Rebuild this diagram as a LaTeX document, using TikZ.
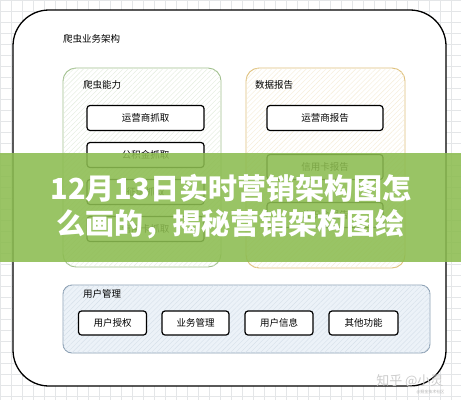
\documentclass[tikz,border=0pt]{standalone}
\usepackage{fontspec}
\setmainfont{Noto Sans CJK SC}
\usepackage{tikz}
\usetikzlibrary{patterns.meta, calc}

\definecolor{gridgray}{RGB}{228,230,232}
\definecolor{crawlgreen}{RGB}{160,192,140}
\definecolor{crawlhatch}{RGB}{226,236,220}
\definecolor{reportgold}{RGB}{222,192,122}
\definecolor{reporthatch}{RGB}{246,236,214}
\definecolor{userblue}{RGB}{140,160,180}
\definecolor{userfill}{RGB}{236,242,248}
\definecolor{userhatch}{RGB}{214,224,234}
\definecolor{bannergreen}{RGB}{140,188,80}

\begin{document}
\begin{tikzpicture}[x=1pt, y=-1pt,
  group/.style={rounded corners=13pt, line width=0.9pt},
  item/.style={draw=black, line width=1.2pt, rounded corners=3pt, fill=white,
    minimum height=25pt, inner sep=0pt, font=\fontsize{9.5}{11}\selectfont},
  grouplabel/.style={anchor=west, inner sep=0pt, font=\fontsize{9.5}{11}\selectfont},
  banner/.style={fill=bannergreen, opacity=0.88}]

\useasboundingbox (0,0) rectangle (461,400);

% paper grid
\draw[gridgray, line width=0.4pt, step=11pt] (0,0) grid (461,400);

% outer frame
\draw[fill=white, line width=1.3pt, rounded corners=36pt] (13,10) rectangle (446,386);
\node[grouplabel] (title) at (63,39) {爬虫业务架构};

% crawler block
\draw[group, draw=crawlgreen, fill=white,
  postaction={pattern={Lines[angle=45, distance=3.5pt, line width=0.4pt]}, pattern color=crawlhatch}]
  (63,68) rectangle (221,267);
\node[grouplabel] (crawl) at (83,85) {爬虫能力};
\node[item, minimum width=117pt] (c1) at (145.5,118) {运营商抓取};
\node[item, minimum width=117pt] (c2) at (145.5,155) {公积金抓取};
\node[item, minimum width=117pt] (c3) at (145.5,192) {征信抓取};
\node[item, minimum width=117pt] (c4) at (145.5,229) {信用卡抓取};

% report block
\draw[group, draw=reportgold, fill=white,
  postaction={pattern={Lines[angle=45, distance=3.5pt, line width=0.4pt]}, pattern color=reporthatch}]
  (246,68) rectangle (405,268);
\node[grouplabel] (report) at (255,85) {数据报告};
\node[item, minimum width=116pt] (r1) at (325,118) {运营商报告};
\node[item, minimum width=116pt] (r2) at (325,167) {信用卡报告};
\node[item, minimum width=116pt] (r3) at (325,215) {公积金报告};

% user block
\draw[rounded corners=9pt, line width=0.9pt, draw=userblue, fill=userfill,
  postaction={pattern={Lines[angle=45, distance=3.5pt, line width=0.4pt]}, pattern color=userhatch}]
  (63,285) rectangle (430,353);
\node[grouplabel] (user) at (83,294) {用户管理};
\node[item, minimum width=68pt, minimum height=24pt] (u1) at (112.5,323) {用户授权};
\node[item, minimum width=67pt, minimum height=24pt] (u2) at (195.5,323) {业务管理};
\node[item, minimum width=68pt, minimum height=24pt] (u3) at (279,323) {用户信息};
\node[item, minimum width=69pt, minimum height=24pt] (u4) at (363.5,323) {其他功能};

% banner
\fill[banner] (0,153) rectangle (461,262);
\node[text=white, font=\fontsize{29}{32}\selectfont\bfseries, align=center] (headline) at (231,207)
  {12月13日实时营销架构图怎\\[3pt]么画的，揭秘营销架构图绘};

% watermark
\node[text=gray!40, font=\fontsize{13}{14}\selectfont, anchor=east] (mark) at (447,381) {知乎 @小灵};
\node[text=gray!60, font=\fontsize{4}{5}\selectfont, anchor=east] (marksub) at (448,392) {@掘金技术社区};

\end{tikzpicture}
\end{document}
